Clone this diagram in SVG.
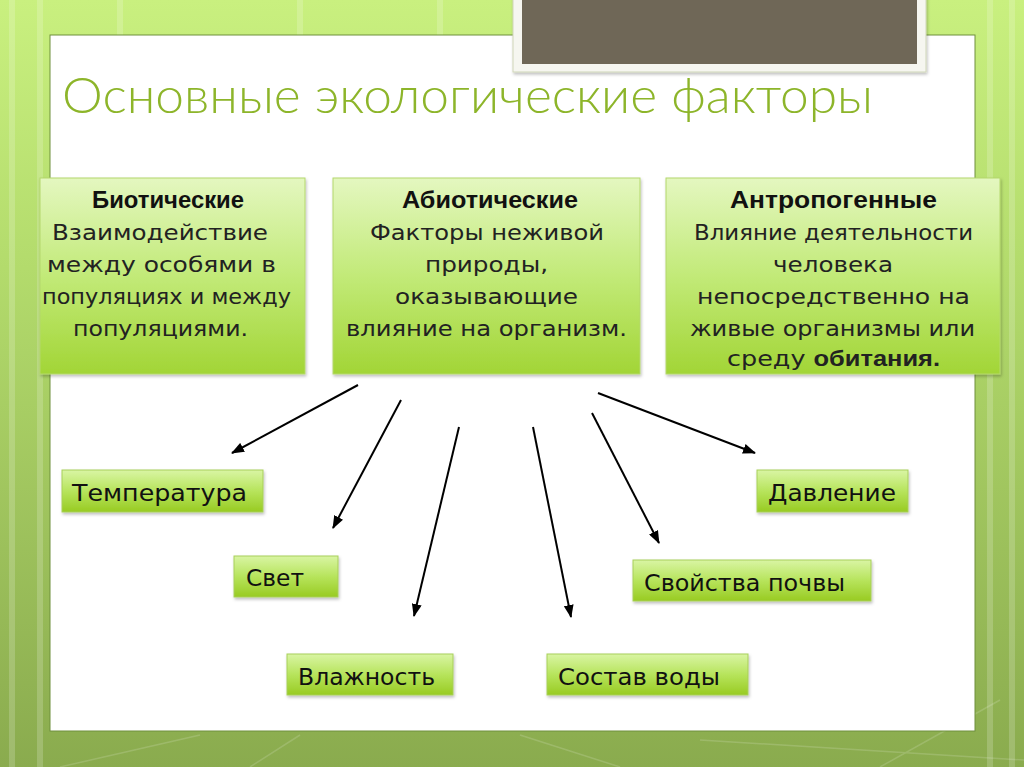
<svg xmlns="http://www.w3.org/2000/svg" width="1024" height="767" viewBox="0 0 1024 767">
<defs>
<linearGradient id="bg" x1="0" y1="0" x2="0" y2="1">
<stop offset="0" stop-color="#c9f07f"/>
<stop offset="0.35" stop-color="#b3db6c"/>
<stop offset="1" stop-color="#8aab4e"/>
</linearGradient>
<linearGradient id="big" x1="0" y1="0" x2="0" y2="1">
<stop offset="0" stop-color="#e4f7c0"/>
<stop offset="0.5" stop-color="#c2ea78"/>
<stop offset="1" stop-color="#a2d536"/>
</linearGradient>
<linearGradient id="small" x1="0" y1="0" x2="0" y2="1">
<stop offset="0" stop-color="#d9f5a4"/>
<stop offset="0.5" stop-color="#b7e45c"/>
<stop offset="1" stop-color="#98cb22"/>
</linearGradient>
<marker id="arr" viewBox="0 0 13 10" refX="12" refY="5" markerWidth="13" markerHeight="10" markerUnits="userSpaceOnUse" orient="auto">
<path d="M0,0 L13,5 L0,10 z" fill="#000"/>
</marker>
<filter id="sh" x="-10%" y="-10%" width="120%" height="130%">
<feDropShadow dx="1" dy="2" stdDeviation="1.5" flood-color="#000" flood-opacity="0.25"/>
</filter>
</defs>
<style>
.bx{fill:url(#big);stroke:#b4d86c;stroke-width:1;filter:url(#sh)}
.sb{fill:url(#small);stroke:#a8cf5a;stroke-width:1;filter:url(#sh)}
.hd{font-family:"Liberation Sans",Arial,sans-serif;font-weight:bold;font-size:23px;fill:#111;text-anchor:middle}
.bd{font-family:"DejaVu Sans","Liberation Sans",sans-serif;font-size:22px;fill:#222;text-anchor:middle}
.lb{font-family:"DejaVu Sans","Liberation Sans",sans-serif;font-size:23px;fill:#111}
.ttl{font-family:"Lato","DejaVu Sans",sans-serif;font-weight:300;font-size:50px;fill:#8db52a}
.cn{stroke:#000;stroke-width:2;fill:none;marker-end:url(#arr)}
</style>
<rect x="0" y="0" width="1024" height="767" fill="url(#bg)"/>
<g opacity="0.18" stroke="#ffffff" stroke-width="6">
<line x1="12" y1="0" x2="12" y2="767"/>
<line x1="40" y1="0" x2="40" y2="767"/>
<line x1="990" y1="0" x2="990" y2="767"/>
<line x1="1012" y1="0" x2="1012" y2="767"/>
<line x1="120" y1="0" x2="120" y2="35"/>
<line x1="300" y1="0" x2="300" y2="35"/>
<line x1="440" y1="0" x2="440" y2="35"/>
</g>
<g opacity="0.15" stroke="#ffffff" stroke-width="1.5" fill="none">
<path d="M60,767 L200,735"/>
<path d="M250,767 L300,735"/>
<path d="M520,735 L620,767"/>
<path d="M700,740 L1024,760"/>
<path d="M880,767 L1000,700"/>
</g>
<rect x="50" y="35" width="925" height="696" fill="#ffffff" stroke="#6f8f3c" stroke-width="1"/>
<g id="topframe">
<rect x="513" y="-4" width="413" height="76" fill="#f6f6f0" stroke="#cfd6b8" stroke-width="1" filter="url(#sh)"/>
<rect x="522" y="-2" width="395" height="66" fill="#6f6757"/>
</g>
<text class="ttl" x="62" y="113" textLength="811" lengthAdjust="spacingAndGlyphs">Основные экологические факторы</text>
<g id="biotic">
<rect class="bx" x="40" y="178" width="265" height="196"/>
<text class="hd" x="168" y="208" textLength="152" lengthAdjust="spacingAndGlyphs">Биотические</text>
<text class="bd" x="160" y="240" textLength="216" lengthAdjust="spacingAndGlyphs">Взаимодействие</text>
<text class="bd" x="161.5" y="272" textLength="229" lengthAdjust="spacingAndGlyphs">между особями в</text>
<text class="bd" x="166.5" y="304" textLength="249" lengthAdjust="spacingAndGlyphs">популяциях и между</text>
<text class="bd" x="160.5" y="336" textLength="175" lengthAdjust="spacingAndGlyphs">популяциями.</text>
</g>
<g id="abiotic">
<rect class="bx" x="333" y="178" width="307" height="196"/>
<text class="hd" x="490" y="208" textLength="176" lengthAdjust="spacingAndGlyphs">Абиотические</text>
<text class="bd" x="487" y="240" textLength="234" lengthAdjust="spacingAndGlyphs">Факторы неживой</text>
<text class="bd" x="486.5" y="272" textLength="123" lengthAdjust="spacingAndGlyphs">природы,</text>
<text class="bd" x="486.5" y="304" textLength="183" lengthAdjust="spacingAndGlyphs">оказывающие</text>
<text class="bd" x="486.5" y="336" textLength="281" lengthAdjust="spacingAndGlyphs">влияние на организм.</text>
</g>
<g id="anthropogenic">
<rect class="bx" x="666" y="178" width="334" height="196"/>
<text class="hd" x="833.5" y="208" textLength="207" lengthAdjust="spacingAndGlyphs">Антропогенные</text>
<text class="bd" x="833.5" y="240" textLength="279" lengthAdjust="spacingAndGlyphs">Влияние деятельности</text>
<text class="bd" x="833" y="272" textLength="120" lengthAdjust="spacingAndGlyphs">человека</text>
<text class="bd" x="833.5" y="304" textLength="273" lengthAdjust="spacingAndGlyphs">непосредственно на</text>
<text class="bd" x="832.5" y="336" textLength="285" lengthAdjust="spacingAndGlyphs">живые организмы или</text>
<text class="bd" x="833.5" y="366" textLength="213" lengthAdjust="spacingAndGlyphs">среду <tspan font-weight="bold" font-family="Liberation Sans, sans-serif">обитания.</tspan></text>
</g>
<g id="connectors">
<line class="cn" x1="358" y1="385" x2="232" y2="453"/>
<line class="cn" x1="401" y1="400" x2="333" y2="528"/>
<line class="cn" x1="459" y1="427" x2="414" y2="616"/>
<line class="cn" x1="533" y1="427" x2="571" y2="617"/>
<line class="cn" x1="592" y1="413" x2="659" y2="543"/>
<line class="cn" x1="598" y1="393" x2="755" y2="453"/>
</g>
<g id="temperature">
<rect class="sb" x="62" y="470" width="201" height="42"/>
<text class="lb" x="72" y="501" textLength="175" lengthAdjust="spacingAndGlyphs">Температура</text>
</g>
<g id="light">
<rect class="sb" x="234" y="556" width="104" height="41"/>
<text class="lb" x="246" y="586" textLength="58" lengthAdjust="spacingAndGlyphs">Свет</text>
</g>
<g id="humidity">
<rect class="sb" x="287" y="654" width="166" height="41"/>
<text class="lb" x="298" y="685" textLength="137" lengthAdjust="spacingAndGlyphs">Влажность</text>
</g>
<g id="water">
<rect class="sb" x="547" y="654" width="201" height="41"/>
<text class="lb" x="558" y="685" textLength="162" lengthAdjust="spacingAndGlyphs">Состав воды</text>
</g>
<g id="soil">
<rect class="sb" x="633" y="560" width="238" height="41"/>
<text class="lb" x="644" y="591" textLength="201" lengthAdjust="spacingAndGlyphs">Свойства почвы</text>
</g>
<g id="pressure">
<rect class="sb" x="757" y="470" width="151" height="42"/>
<text class="lb" x="768" y="501" textLength="128" lengthAdjust="spacingAndGlyphs">Давление</text>
</g>
</svg>
